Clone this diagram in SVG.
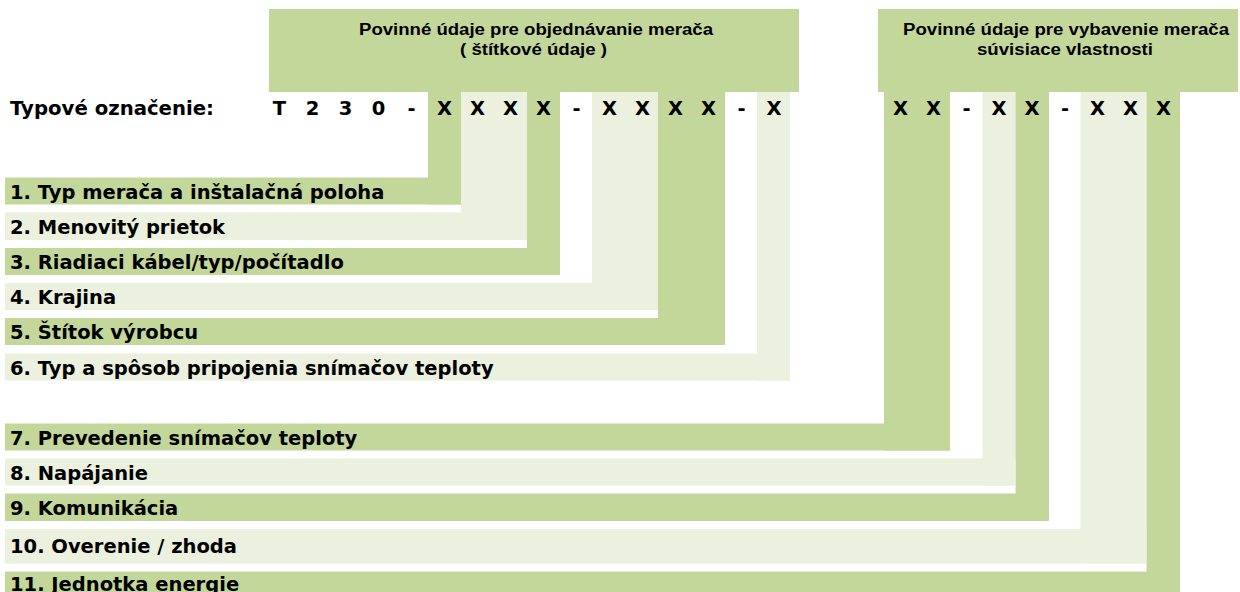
<svg xmlns="http://www.w3.org/2000/svg" width="1240" height="592" viewBox="0 0 1240 592">
<style>
.g{fill:#C4D79B}
.l{fill:#EBF0DF}
.h{font-family:"Liberation Sans",Arial,sans-serif;font-weight:bold;font-size:16px;fill:#000}
.t{font-family:"DejaVu Sans",Verdana,sans-serif;font-weight:bold;font-size:19.5px;fill:#000}
.c{font-family:"DejaVu Sans",Verdana,sans-serif;font-weight:bold;font-size:19.5px;fill:#000;text-anchor:middle}
</style>
<rect x="0" y="0" width="1240" height="592" fill="#fff"/>
<g id="header1">
<rect class="g" x="269" y="9" width="530" height="83"/>
<text class="h" x="359" y="35" textLength="354" lengthAdjust="spacingAndGlyphs">Povinné údaje pre objednávanie merača</text>
<text class="h" x="460" y="55" textLength="147" lengthAdjust="spacingAndGlyphs">( štítkové údaje )</text>
</g>
<g id="header2">
<rect class="g" x="878" y="9" width="360" height="83"/>
<text class="h" x="903" y="35" textLength="326" lengthAdjust="spacingAndGlyphs">Povinné údaje pre vybavenie merača</text>
<text class="h" x="977" y="55" textLength="176" lengthAdjust="spacingAndGlyphs">súvisiace vlastnosti</text>
</g>
<g id="connectors">
<rect class="g" x="428" y="92" width="33" height="112.5"/>
<rect class="l" x="461" y="92" width="66" height="148"/>
<rect class="g" x="527" y="92" width="33" height="183"/>
<rect class="l" x="592" y="92" width="66" height="218"/>
<rect class="g" x="658" y="92" width="67" height="253"/>
<rect class="l" x="757" y="92" width="33" height="288.5"/>
<rect class="g" x="884" y="92" width="66" height="358.5"/>
<rect class="l" x="982.5" y="92" width="33" height="393.5"/>
<rect class="g" x="1015.5" y="92" width="33.5" height="429"/>
<rect class="l" x="1080.5" y="92" width="66" height="471.5"/>
<rect class="g" x="1146.5" y="92" width="33.5" height="500"/>
</g>
<g id="code">
<text class="t" x="10" y="115" textLength="204" lengthAdjust="spacingAndGlyphs">Typové označenie:</text>
<text class="c" x="279.5" y="115">T</text>
<text class="c" x="312.5" y="115">2</text>
<text class="c" x="345.5" y="115">3</text>
<text class="c" x="378.5" y="115">0</text>
<text class="c" x="411.5" y="115">-</text>
<text class="c" x="444.5" y="115">X</text>
<text class="c" x="477.5" y="115">X</text>
<text class="c" x="510.5" y="115">X</text>
<text class="c" x="543.5" y="115">X</text>
<text class="c" x="576.5" y="115">-</text>
<text class="c" x="609.5" y="115">X</text>
<text class="c" x="642.5" y="115">X</text>
<text class="c" x="675.5" y="115">X</text>
<text class="c" x="708.5" y="115">X</text>
<text class="c" x="741.5" y="115">-</text>
<text class="c" x="774" y="115">X</text>
<text class="c" x="900.5" y="115">X</text>
<text class="c" x="933.5" y="115">X</text>
<text class="c" x="966.5" y="115">-</text>
<text class="c" x="999" y="115">X</text>
<text class="c" x="1032" y="115">X</text>
<text class="c" x="1065" y="115">-</text>
<text class="c" x="1097.5" y="115">X</text>
<text class="c" x="1130.5" y="115">X</text>
<text class="c" x="1163.5" y="115">X</text>
</g>
<g id="item1"><rect class="g" x="5" y="177.5" width="456" height="27"/><text class="t" x="10" y="198.5">1. Typ merača a inštalačná poloha</text></g>
<g id="item2"><rect class="l" x="5" y="212.5" width="522" height="27.5"/><text class="t" x="10" y="233.5">2. Menovitý prietok</text></g>
<g id="item3"><rect class="g" x="5" y="248" width="555" height="27"/><text class="t" x="10" y="269">3. Riadiaci kábel/typ/počítadlo</text></g>
<g id="item4"><rect class="l" x="5" y="283" width="653" height="27"/><text class="t" x="10" y="304">4. Krajina</text></g>
<g id="item5"><rect class="g" x="5" y="318" width="720" height="27"/><text class="t" x="10" y="339">5. Štítok výrobcu</text></g>
<g id="item6"><rect class="l" x="5" y="353.5" width="785" height="27"/><text class="t" x="10" y="374.5">6. Typ a spôsob pripojenia snímačov teploty</text></g>
<g id="item7"><rect class="g" x="5" y="423.5" width="945" height="27"/><text class="t" x="10" y="444.5">7. Prevedenie snímačov teploty</text></g>
<g id="item8"><rect class="l" x="5" y="458.5" width="1010.5" height="27"/><text class="t" x="10" y="479.5">8. Napájanie</text></g>
<g id="item9"><rect class="g" x="5" y="493.5" width="1044" height="27.5"/><text class="t" x="10" y="514.5">9. Komunikácia</text></g>
<g id="item10"><rect class="l" x="5" y="529" width="1141.5" height="34.5"/><text class="t" x="10" y="553">10. Overenie / zhoda</text></g>
<g id="item11"><rect class="g" x="5" y="571.5" width="1175" height="20.5"/><text class="t" x="10" y="591">11. Jednotka energie</text></g>
</svg>
